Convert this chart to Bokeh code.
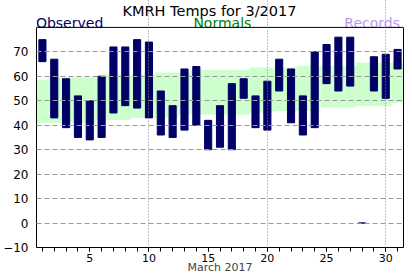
from bokeh.plotting import figure
from bokeh.models import Range1d, FixedTicker, Span, LinearAxis
from bokeh.core.properties import value
from bokeh.embed import file_html
from bokeh.resources import INLINE

# ---- data ----
days = list(range(1, 32))
obs_high = [75, 67, 59, 52, 50, 60, 72, 72, 75, 74, 54, 48, 63, 64, 42, 48, 57, 59, 52, 58,
            67, 63, 52, 70, 73, 76, 76, 0, 68, 69, 71]
obs_low = [66, 43, 39, 35, 34, 35, 45, 48, 47, 43, 36, 35, 38, 40, 30, 31, 30, 51, 39, 38,
           54, 41, 36, 39, 57, 54, 56, 0, 54, 51, 63]
norm_high = [58.6, 59.5, 59.5, 59.5, 59.5, 60.6, 60.6, 60.6, 60.6, 60.6, 61.6, 61.6, 61.6,
             62.7, 62.7, 62.7, 62.7, 62.7, 63.6, 63.6, 63.6, 63.6, 64.3, 64.3, 64.3, 64.3,
             64.3, 65.6, 65.6, 65.6, 65.6]
norm_low = [40.9, 40.9, 40.9, 40.9, 40.9, 42.1, 42.1, 42.1, 43.0, 43.0, 43.0, 43.0, 44.4,
            44.4, 44.4, 44.4, 44.4, 44.4, 45.1, 45.1, 45.8, 45.8, 45.8, 45.8, 47.2, 47.2,
            47.2, 47.8, 47.8, 47.8, 49.2]
x_ticks = [5, 10, 15, 20, 25, 30]
y_ticks = [-10, 0, 10, 20, 30, 40, 50, 60, 70]
title_text = "KMRH Temps for 3/2017"
x_label = "March 2017"
legend_names = ["Observed", "Normals", "Records"]

FONT = "DejaVu Sans"
NAVY = "#000066"
Y_MIN, Y_MAX = -10, 80

p = figure(width=412, height=276, output_backend="svg", toolbar_location=None,
           x_range=Range1d(0.5, 31.5), y_range=Range1d(Y_MIN, 91.0),
           min_border_left=31, min_border_right=9, min_border_top=0, min_border_bottom=29)
p.background_fill_color = "white"
p.border_fill_color = "white"
p.outline_line_color = None

# normals band
p.quad(left=[d - 0.5 for d in days], right=[d + 0.5 for d in days],
       bottom=norm_low, top=norm_high, fill_color="#ccffcc", line_color=None)

# observed bars
p.vbar(x=days, width=0.6, bottom=obs_low, top=obs_high,
       fill_color=NAVY, line_color=NAVY, line_width=1)

# axes
p.xaxis.ticker = FixedTicker(ticks=x_ticks, minor_ticks=days)
p.yaxis.ticker = FixedTicker(ticks=y_ticks)
p.yaxis.bounds = (Y_MIN, Y_MAX)
for ax in (p.xaxis[0], p.yaxis[0]):
    ax.axis_line_color = "black"
    ax.major_label_text_font = FONT
    ax.major_label_text_color = "black"
    ax.major_tick_in = 0
    ax.minor_tick_in = 0
p.xaxis.major_tick_out = 4
p.xaxis.minor_tick_out = 4
p.xaxis.major_label_standoff = 2
p.xaxis.major_label_text_font_size = "11px"
p.xaxis.axis_label = x_label
p.xaxis.axis_label_text_font = FONT
p.xaxis.axis_label_text_font_size = "11px"
p.xaxis.axis_label_text_font_style = "normal"
p.xaxis.axis_label_standoff = -4
p.yaxis.major_tick_out = 0
p.yaxis.minor_tick_out = 0
p.yaxis.major_tick_line_color = None
p.yaxis.minor_tick_line_color = None
p.yaxis.major_label_standoff = 8
p.yaxis.major_label_text_font_size = "12px"

# right frame edge
right_ax = LinearAxis(ticker=FixedTicker(ticks=[]), bounds=(Y_MIN, Y_MAX),
                      axis_line_color="black", major_tick_line_color=None,
                      minor_tick_line_color=None, major_label_text_font_size="0px")
p.add_layout(right_ax, "right")
# top frame edge
p.add_layout(Span(location=Y_MAX, dimension="width", line_color="black", line_width=1))

# grids
p.xgrid.ticker = FixedTicker(ticks=[10, 20, 30])
p.xgrid.bounds = (Y_MIN, Y_MAX)
p.xgrid.grid_line_color = "#888888"
p.xgrid.grid_line_dash = "1 2"
p.xgrid.level = "overlay"
p.ygrid.ticker = FixedTicker(ticks=[0, 10, 20, 30, 40, 50, 60, 70])
p.ygrid.grid_line_color = "#999999"
p.ygrid.grid_line_dash = "5 3"
p.ygrid.level = "overlay"

# texts (glyphs inside the extended frame)
p.text(x=[15.11], y=[86.9], text=[title_text], text_align="center",
       text_baseline="alphabetic", text_font=value(FONT), text_font_size="14.5px",
       text_color="black")
p.text(x=[0.45], y=[81.8], text=[legend_names[0]], text_align="left",
       text_baseline="alphabetic", text_font=value(FONT), text_font_size="14px",
       text_color=NAVY)
p.text(x=[16.2], y=[81.8], text=[legend_names[1]], text_align="center",
       text_baseline="alphabetic", text_font=value(FONT), text_font_size="14px",
       text_color="#008000")
p.text(x=[31.2], y=[81.8], text=[legend_names[2]], text_align="right",
       text_baseline="alphabetic", text_font=value(FONT), text_font_size="14px",
       text_color="#b899ee")

open("out.html", "w").write(file_html(p, INLINE))
